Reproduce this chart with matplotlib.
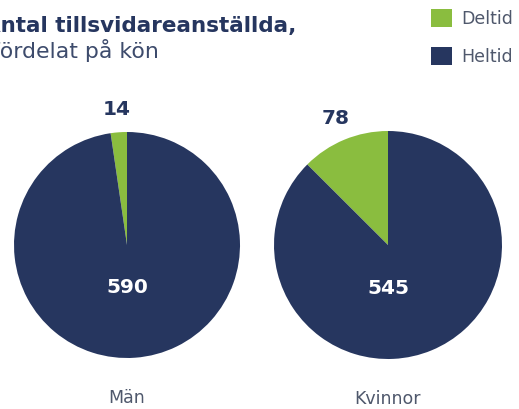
import numpy as np
import matplotlib
matplotlib.use("Agg")
import matplotlib.pyplot as plt
from matplotlib.patches import Patch

# data
groups = ["Män", "Kvinnor"]
series = ["Deltid", "Heltid"]
deltid = [14, 78]
heltid = [590, 545]

NAVY = "#26365f"
GREEN = "#8abd3f"
GRAY = "#4f586c"

plt.rcParams["font.family"] = ["DejaVu Sans"]

W, H = 519, 409
fig = plt.figure(figsize=(W / 100, H / 100), dpi=100)

# pie boxes in pixels: (left, top, size)
boxes = [(14, 132, 226), (274, 131, 228)]

for i, g in enumerate(groups):
    left, top, size = boxes[i]
    ax = fig.add_axes([left / W, (H - top - size) / H, size / W, size / H])
    vals = [deltid[i], heltid[i]]
    wedges, _ = ax.pie(vals, colors=[GREEN, NAVY], startangle=90,
                       counterclock=True, radius=1,
                       wedgeprops=dict(linewidth=0))
    ax.set_xlim(-1, 1)
    ax.set_ylim(-1, 1)
    ax.set_aspect("equal")
    ax.axis("off")

    # outside label for Deltid
    w = wedges[0]
    mid = np.deg2rad((w.theta1 + w.theta2) / 2)
    ax.text(1.2 * np.cos(mid), 1.2 * np.sin(mid), str(deltid[i]),
            ha="center", va="center", fontsize=14.5, fontweight="bold",
            color=NAVY, clip_on=False)
    # inside label for Heltid
    ax.text(0, -0.38, str(heltid[i]), ha="center", va="center",
            fontsize=14.5, fontweight="bold", color="white")
    # group name
    ax.text(0, -1.35, g, ha="center", va="center", fontsize=12.5,
            color=GRAY, clip_on=False)

# title (cut off at the left edge like the original)
fig.text(-16.5 / W, 1 - 26 / H, "Antal tillsvidareanställda,", fontsize=15.5,
         fontweight="bold", color=NAVY, va="center", ha="left")
fig.text(-8 / W, 1 - 50 / H, "fördelat på kön", fontsize=15.8,
         color="#3d4b6c", va="center", ha="left")

handles = [Patch(facecolor=GREEN, edgecolor="none"),
           Patch(facecolor=NAVY, edgecolor="none")]
fig.legend(handles, series, loc="upper left",
           bbox_to_anchor=(424 / W, 1 - 2 / H), frameon=False,
           fontsize=12.5, labelcolor=GRAY, handlelength=1.2, handleheight=1.2,
           handletextpad=0.55, labelspacing=1.1, borderaxespad=0)

fig.savefig("out.png", dpi=100)
